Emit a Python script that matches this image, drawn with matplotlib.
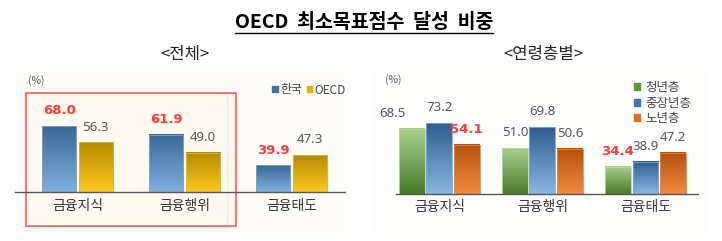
import numpy as np
import matplotlib
matplotlib.use('Agg')
import matplotlib.pyplot as plt
from matplotlib.colors import LinearSegmentedColormap
from matplotlib.patches import Rectangle
from matplotlib.lines import Line2D

plt.rcParams['font.family'] = ['Noto Sans CJK KR', 'DejaVu Sans']

categories = ['금융지식', '금융행위', '금융태도']
korea = [68.0, 61.9, 39.9]
oecd = [56.3, 49.0, 47.3]
korea_red = [True, True, True]

young = [68.5, 51.0, 34.4]
middle = [73.2, 69.8, 38.9]
old = [54.1, 50.6, 47.2]
age_labels = ['청년층', '중장년층', '노년층']
# which labels are printed in red
young_red = [False, False, True]
middle_red = [False, False, False]
old_red = [True, False, False]

W, H = 722, 241
fig = plt.figure(figsize=(W / 100, H / 100), dpi=100)
fig.patch.set_facecolor('white')

RED = '#ff3b3b'
GRAY = '#555555'


def px(x0, y0, x1, y1):
    # pixel box -> figure fraction [l, b, w, h]
    return [x0 / W, 1 - y1 / H, (x1 - x0) / W, (y1 - y0) / H]


def grad_bars(ax, bars, c_top, c_bot, edge):
    cmap = LinearSegmentedColormap.from_list('g', [c_bot, c_top])
    grad = np.linspace(0, 1, 100).reshape(-1, 1)
    ymin = ax.get_ylim()[0]
    for b in bars:
        x, y, w, h = b.get_x(), b.get_y(), b.get_width(), b.get_height()
        lo = max(y, ymin)
        ax.imshow(grad, extent=[x, x + w, lo, y + h], origin='lower',
                  cmap=cmap, aspect='auto', zorder=2, interpolation='bilinear')
        b.set_edgecolor(edge)
        b.set_linewidth(0.6)
        b.set_zorder(3)
        b.set_facecolor('none')


def labels(ax, bars, vals, reds, dx=None):
    for i, (b, v, r) in enumerate(zip(bars, vals, reds)):
        off = dx[i] if dx else 0
        ax.annotate(f'{v:.1f}', (b.get_x() + b.get_width() / 2, b.get_height()),
                    xytext=(off, 11), textcoords='offset points', ha='center', va='center',
                    fontsize=9.5, color=RED if r else GRAY,
                    fontweight='bold' if r else 'normal', family=['DejaVu Sans'] if r else ['Noto Sans'])


# panel backgrounds / red box
fig.patches.append(Rectangle((15 / W, 1 - 232 / H), 330 / W, 160 / H, transform=fig.transFigure,
                             facecolor='#fefcf8', edgecolor='none', zorder=-2))
fig.patches.append(Rectangle((370 / W, 1 - 232 / H), 340 / W, 160 / H, transform=fig.transFigure,
                             facecolor='#fdfdfb', edgecolor='none', zorder=-2))
fig.patches.append(Rectangle((26 / W, 1 - 226 / H), 210 / W, 133 / H, transform=fig.transFigure,
                             facecolor='#fffaef', edgecolor='#ff5a5a', linewidth=1.2, zorder=-1))

# ---- left panel
ax1 = fig.add_axes(px(15, 72, 345, 192))
ax1.set_facecolor('none')
x = np.arange(len(categories))
ax1.set_xlim(-0.584, 2.5)
ax1.set_ylim(20.9, 106.6)
b1 = ax1.bar(x - 0.17, korea, 0.32)
b2 = ax1.bar(x + 0.17, oecd, 0.32)
grad_bars(ax1, b1, '#386896', '#80b0de', '#7fa6cf')
grad_bars(ax1, b2, '#b58b00', '#ffc820', '#d8b850')
labels(ax1, b1, korea, korea_red)
labels(ax1, b2, oecd, [False] * 3)
ax1.set_xlim(-0.584, 2.5)
ax1.set_ylim(20.9, 106.6)
ax1.set_xticks(x)
ax1.set_xticklabels(categories, fontsize=10, color='#333333')
ax1.tick_params(axis='x', length=0, pad=5)
ax1.set_yticks([])
for s in ['top', 'left', 'right']:
    ax1.spines[s].set_visible(False)
ax1.spines['bottom'].set_color('#555555')
ax1.spines['bottom'].set_linewidth(1)
ax1.spines['bottom'].set_zorder(4)
h1 = [Rectangle((0, 0), 1, 1, color='#3d75b0'), Rectangle((0, 0), 1, 1, color='#e6b000')]
fig.legend(h1, ['한국', 'OECD'], loc='center', bbox_to_anchor=(309 / W, 1 - 90 / H), ncol=2,
           frameon=False, fontsize=8.5, handlelength=0.45, handleheight=0.45, handletextpad=0.2,
           columnspacing=0.4, labelcolor='#444444')
fig.text(36 / W, 1 - 81 / H, '(%)', fontsize=7.5, color='#555555', ha='center', va='center')

# ---- right panel
ax2 = fig.add_axes(px(396, 72, 698, 194))
ax2.set_facecolor('none')
ax2.set_xlim(-0.42, 2.51)
ax2.set_ylim(10.4, 118.7)
step = 0.267
g1 = ax2.bar(x - step, young, 0.25)
g2 = ax2.bar(x, middle, 0.25)
g3 = ax2.bar(x + step, old, 0.25)
grad_bars(ax2, g1, '#a9d18e', '#4a7a28', '#b5d8a0')
grad_bars(ax2, g2, '#2e5f92', '#8ab6e2', '#7fa6cf')
grad_bars(ax2, g3, '#b4520d', '#f08a40', '#d88a55')
labels(ax2, g1, young, young_red, dx=[-14, 0, 0])
labels(ax2, g2, middle, middle_red)
labels(ax2, g3, old, old_red)
ax2.set_xlim(-0.42, 2.51)
ax2.set_ylim(10.4, 118.7)
ax2.set_xticks(x)
ax2.set_xticklabels(categories, fontsize=10, color='#333333')
ax2.tick_params(axis='x', length=0, pad=4)
ax2.set_yticks([])
for s in ['top', 'left', 'right']:
    ax2.spines[s].set_visible(False)
ax2.spines['bottom'].set_color('#555555')
ax2.spines['bottom'].set_linewidth(1)
ax2.spines['bottom'].set_zorder(4)
h2 = [Rectangle((0, 0), 1, 1, color=c) for c in ['#5a9a34', '#3d75b0', '#e0701e']]
fig.legend(h2, age_labels, loc='upper left', bbox_to_anchor=(628 / W, 1 - 75 / H),
           frameon=False, fontsize=9, handlelength=0.45, handleheight=0.45, handletextpad=0.4,
           labelspacing=0.2, labelcolor='#444444', borderpad=0)
fig.text(393 / W, 1 - 80 / H, '(%)', fontsize=7.5, color='#555555', ha='center', va='center')

# ---- titles
t = fig.text(364 / W, 1 - 22 / H, 'OECD  최소목표점수  달성  비중', fontsize=14, fontweight='bold',
             ha='center', va='center', color='black')
fig.text(185 / W, 1 - 55 / H, '<전체>', fontsize=12, ha='center', va='center', color='#222222')
fig.text(543 / W, 1 - 55 / H, '<연령층별>', fontsize=12, ha='center', va='center', color='#222222')

fig.canvas.draw()
bb = t.get_window_extent().transformed(fig.transFigure.inverted())
fig.lines.append(Line2D([bb.x0, bb.x1], [1 - 33 / H] * 2, transform=fig.transFigure,
                        color='black', linewidth=1))

fig.savefig('out.png', dpi=100)
